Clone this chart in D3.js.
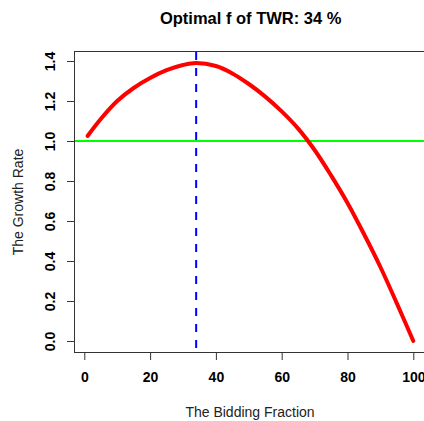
<!DOCTYPE html>
<html>
<head>
<meta charset="utf-8">
<script src="https://cdn.jsdelivr.net/npm/d3@7"></script>
<style>
  html, body { margin: 0; padding: 0; background: #fff; }
  svg { display: block; font-family: "Liberation Sans", Arial, sans-serif; }
</style>
</head>
<body>
<svg id="chart" width="424" height="421"></svg>
<script>
// ---- data ----
const fractions = [1, 5, 10, 15, 20, 25, 30, 34, 40, 45, 50, 55, 60, 65, 70, 75, 80, 85, 90, 95, 100];
const growth    = [1.025, 1.11, 1.20, 1.265, 1.315, 1.354, 1.380, 1.390, 1.375, 1.338, 1.285, 1.222, 1.148, 1.062, 0.955, 0.828, 0.69, 0.535, 0.37, 0.188, 0.0];
const optimalF = 34;
const refLevel = 1.0;
const xTicks = [0, 20, 40, 60, 80, 100];
const yTicks = [0.0, 0.2, 0.4, 0.6, 0.8, 1.0, 1.2, 1.4];
const titleText = "Optimal f of TWR: " + optimalF + " %";
const xLabel = "The Bidding Fraction";
const yLabel = "The Growth Rate";

// ---- layout ----
const svg = d3.select("#chart");
const box = { left: 75, right: 426.3, top: 52, bottom: 352 };
const x = d3.scaleLinear().domain([0, 100]).range([84.3, 413.3]);
const y = d3.scaleLinear().domain([0, 1.4]).range([341, 61]);

const axisColor = "#333";

svg.append("defs").append("clipPath").attr("id", "clip")
  .append("rect").attr("x", box.left).attr("y", box.top)
  .attr("width", box.right - box.left).attr("height", box.bottom - box.top);

const plot = svg.append("g").attr("clip-path", "url(#clip)");

plot.append("line")
  .attr("x1", box.left).attr("x2", box.right)
  .attr("y1", y(refLevel)).attr("y2", y(refLevel))
  .attr("stroke", "#00FF00").attr("stroke-width", 2);

plot.append("line")
  .attr("x1", x(optimalF)).attr("x2", x(optimalF))
  .attr("y1", box.top).attr("y2", box.bottom)
  .attr("stroke", "#0000FF").attr("stroke-width", 2)
  .attr("stroke-dasharray", "8,8");

const line = d3.line()
  .x((d, i) => x(fractions[i]))
  .y(d => y(d))
  .curve(d3.curveCatmullRom);
plot.append("path")
  .datum(growth)
  .attr("d", line)
  .attr("fill", "none")
  .attr("stroke", "#FF0000")
  .attr("stroke-width", 4)
  .attr("stroke-linecap", "round");

svg.append("rect")
  .attr("x", box.left - 0.5).attr("y", box.top - 0.5)
  .attr("width", box.right - box.left + 1).attr("height", box.bottom - box.top + 1)
  .attr("fill", "none").attr("stroke", axisColor).attr("stroke-width", 1);

const xAxis = d3.axisBottom(x).tickValues(xTicks).tickSize(8).tickPadding(12)
  .tickFormat(d3.format("d"));
const gx = svg.append("g").attr("transform", `translate(0,${box.bottom})`).call(xAxis);
gx.select(".domain").remove();
gx.selectAll(".tick line").attr("stroke", axisColor);
gx.selectAll(".tick text")
  .attr("fill", "#000").attr("font-size", 14).attr("font-weight", "bold")
  .attr("font-family", "Liberation Sans, Arial, sans-serif");

const yAxis = d3.axisLeft(y).tickValues(yTicks).tickSize(8).tickFormat(d3.format(".1f"));
const gy = svg.append("g").attr("transform", `translate(${box.left},0)`).call(yAxis);
gy.select(".domain").remove();
gy.selectAll(".tick line").attr("stroke", axisColor);
gy.selectAll(".tick text")
  .attr("fill", "#000").attr("font-size", 14).attr("font-weight", "bold")
  .attr("font-family", "Liberation Sans, Arial, sans-serif")
  .attr("x", null).attr("dy", null)
  .attr("text-anchor", "middle")
  .attr("transform", `translate(${55 - box.left},0) rotate(-90)`);

svg.append("text")
  .attr("x", (box.left + box.right) / 2).attr("y", 24)
  .attr("text-anchor", "middle")
  .attr("font-size", 16.5).attr("font-weight", "bold").attr("fill", "#000")
  .text(titleText);

svg.append("text")
  .attr("x", 250).attr("y", 417)
  .attr("text-anchor", "middle")
  .attr("font-size", 14).attr("fill", "#222")
  .text(xLabel);

svg.append("text")
  .attr("transform", `translate(22.5,${(box.top + box.bottom) / 2}) rotate(-90)`)
  .attr("text-anchor", "middle")
  .attr("font-size", 14).attr("fill", "#222")
  .text(yLabel);
</script>
</body>
</html>
